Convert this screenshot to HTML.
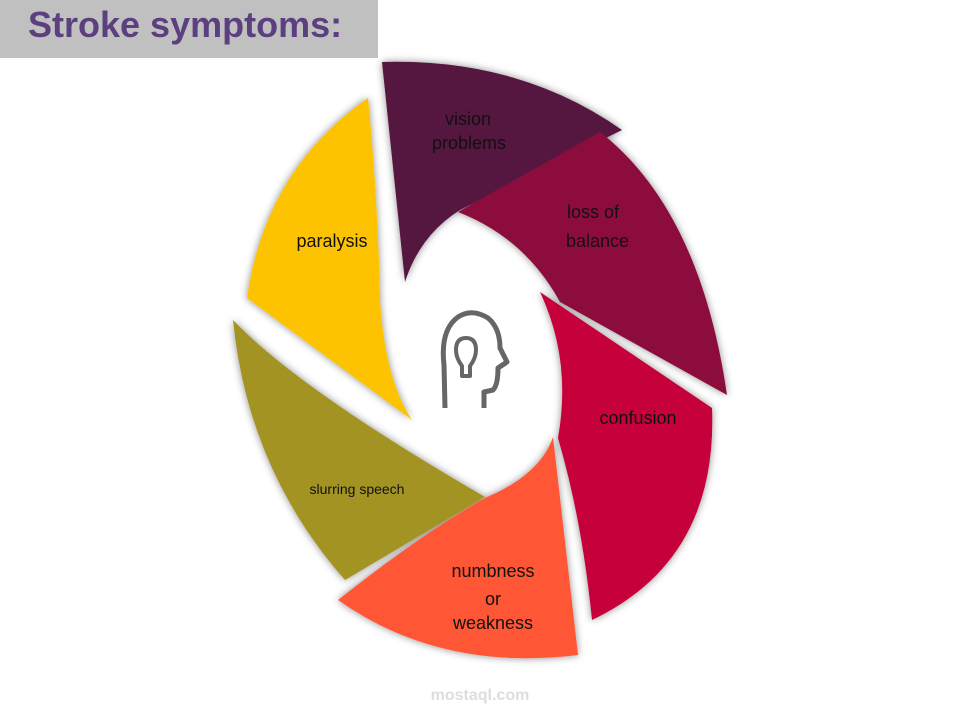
<!DOCTYPE html>
<html><head><meta charset="utf-8"><style>
body{margin:0;width:960px;height:720px;background:#fff;overflow:hidden;position:relative;font-family:"Liberation Sans",sans-serif}
#t{position:absolute;left:0;top:0;width:378px;height:58px;background:#c0c0c0}
#t span{position:absolute;left:28px;top:4px;font-size:36px;font-weight:bold;color:#5b3f7f}
svg{position:absolute;left:0;top:0}
text{font-family:"Liberation Sans","DejaVu Sans",sans-serif;fill:#111}
</style></head><body>
<div id="t"><span>Stroke symptoms:</span></div>
<svg width="960" height="720">
<defs><filter id="s" x="-20%" y="-20%" width="140%" height="140%"><feDropShadow dx="0" dy="0" stdDeviation="4" flood-color="#000" flood-opacity="0.45"/></filter></defs>
<g filter="url(#s)">
<path d="M368,98 Q265,170 247,298 L412,420 Q385,380 380,300 Q378,200 368,98 Z" fill="#fdc300"/>
<path d="M382,62 Q520,58 622,130 L460,210 Q420,235 405,282 Z" fill="#551741"/>
<path d="M458,212 L600,132 Q700,210 727,395 L560,302 Q525,238 458,212 Z" fill="#8c0e3c"/>
<path d="M540,292 L712,408 Q718,560 592,620 Q582,520 558,438 Q572,360 540,292 Z" fill="#c6003b"/>
<path d="M233,320 Q300,390 485,497 L345,580 Q248,470 233,320 Z" fill="#a29322"/>
<path d="M553,437 L578,655 Q440,672 338,600 Q420,535 485,498 Q540,475 553,437 Z" fill="#ff5735"/>
</g>
<g fill="none" stroke="#666" stroke-width="5" stroke-linejoin="round">
<path d="M445,408 L444,365 Q440,330 458,317 Q472,308 488,318 Q500,328 500,348 L507,362 L498,368 Q498,385 493,390 L484,392 L484,408"/>
<path d="M466,338 Q476,338 476,350 Q476,358 470,366 L470,376 L462,376 L462,366 Q456,358 456,350 Q456,338 466,338 Z" stroke-width="4"/>
</g>
<g font-size="18" text-anchor="middle">
<text x="468" y="125">vision</text><text x="469" y="149">problems</text>
<text x="567" y="218" text-anchor="start">loss of</text><text x="566" y="247" text-anchor="start">balance</text>
<text x="332" y="247">paralysis</text>
<text x="638" y="424">confusion</text>
<text x="357" y="494" font-size="14">slurring speech</text>
<text x="493" y="577">numbness</text><text x="493" y="605">or</text><text x="493" y="629">weakness</text>
</g>
<text x="480" y="700" font-size="16" font-weight="bold" style="fill:#ddd" text-anchor="middle">mostaql.com</text>
</svg>
</body></html>
